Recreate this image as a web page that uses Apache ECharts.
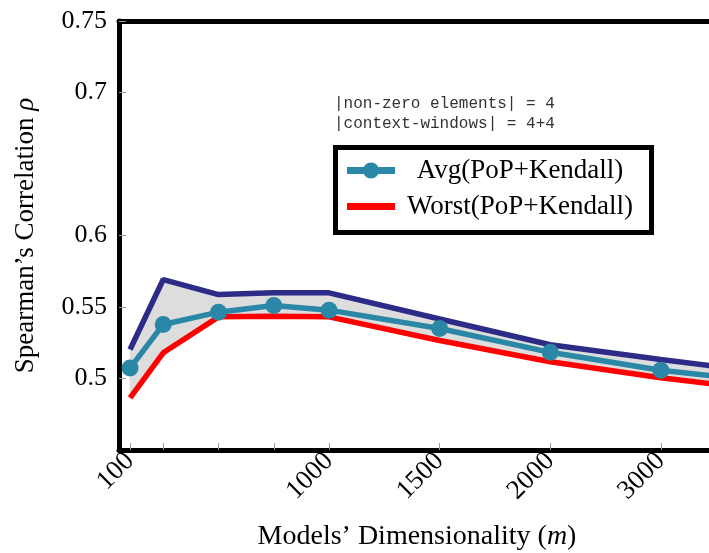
<!DOCTYPE html>
<html>
<head>
<meta charset="utf-8">
<script src="https://cdn.jsdelivr.net/npm/echarts@6/dist/echarts.min.js"></script>
<style>
html,body{margin:0;padding:0;background:#fff;}
#c{width:709px;height:553px;}
</style>
</head>
<body>
<div id="c"></div>
<script>
// x positions of the measured dimensionalities on the plot axis
var xPos = [100, 250, 500, 750, 1000, 1500, 2000, 2500, 3000];
// tick positions and their labels
var xTickPos = [100, 250, 500, 750, 1000, 1500, 2000, 2500];
var xLabelPos = [100, 1000, 1500, 2000, 2500];
var xLabelText = ['100', '1000', '1500', '2000', '3000'];
var yTickVals = [0.5, 0.55, 0.6, 0.7, 0.75];
// series values
var avgVals   = [0.5073, 0.5378, 0.5464, 0.5510, 0.5478, 0.5350, 0.5183, 0.5058, 0.4973];
var bestVals  = [0.5203, 0.5692, 0.5587, 0.5599, 0.5599, 0.5416, 0.5236, 0.5133, 0.5038];
var worstVals = [0.4865, 0.5180, 0.5431, 0.5436, 0.5431, 0.5266, 0.5117, 0.5005, 0.4914];

var SERIF = "'Liberation Serif','DejaVu Serif',serif";
var TEAL = '#2a87a5', NAVY = '#2d2b88', RED = '#ff0000';
function pairs(vals){ return xPos.map(function(x,i){ return [x, vals[i]]; }); }
var segIdx = xPos.slice(0, -1).map(function(_, i){ return i; });

var chart = echarts.init(document.getElementById('c'), null, {renderer:'canvas'});
chart.setOption({
  animation: false,
  backgroundColor: '#fff',
  grid: {left: 119, top: 21, right: 0, bottom: 103},
  legend: {
    data: [
      {name: 'Avg(PoP+Kendall)', icon: 'path://M0,4.5 L48,4.5 L48,11.5 L0,11.5 Z M16,8 A8,8 0 1,1 32,8 A8,8 0 1,1 16,8 Z'},
      {name: 'Worst(PoP+Kendall)', icon: 'path://M0,0 L48,0 L48,7 L0,7 Z'}
    ],
    symbolKeepAspect: true,
    orient: 'vertical',
    left: 335.5, top: 147.5,
    padding: [9.5, 18.5, 12.5, 11.5],
    itemGap: 9,
    itemWidth: 48, itemHeight: 16,
    borderColor: '#000', borderWidth: 5, backgroundColor: '#fff',
    formatter: function(n){ return '{a|' + n + '}'; },
    textStyle: {
      fontFamily: SERIF, fontSize: 27, color: '#000',
      rich: {a: {fontFamily: SERIF, fontSize: 27, width: 240, align: 'center', color: '#000'}}
    }
  },
  xAxis: [{
    type: 'value', min: 50, max: 2718,
    axisLine: {show: true, lineStyle: {color: '#000', width: 5}},
    axisTick: {show: true, inside: true, length: 7, customValues: xTickPos, lineStyle: {color: '#999', width: 1}},
    axisLabel: {
      customValues: xLabelPos, rotate: 45, margin: 7,
      fontFamily: SERIF, fontSize: 27, color: '#000',
      formatter: function(v){ var i = xLabelPos.indexOf(v); return i >= 0 ? xLabelText[i] : ''; }
    },
    splitLine: {show: false}
  }, {
    type: 'value', min: 50, max: 2718, position: 'top',
    axisLine: {show: true, onZero: false, lineStyle: {color: '#000', width: 5}},
    axisTick: {show: false}, axisLabel: {show: false}, splitLine: {show: false}
  }],
  yAxis: {
    type: 'value', min: 0.45, max: 0.75,
    axisLine: {show: true, lineStyle: {color: '#000', width: 5}},
    axisTick: {show: true, inside: true, length: 7, customValues: yTickVals, lineStyle: {color: '#999', width: 1}},
    axisLabel: {
      customValues: yTickVals, margin: 12,
      fontFamily: SERIF, fontSize: 26, color: '#000',
      formatter: function(v){ return String(+v.toFixed(2)); }
    },
    splitLine: {show: false},
    name: '{a|Spearman\u2019s Correlation }{b|\u03c1}',
    nameLocation: 'middle', nameGap: 80, nameRotate: 90,
    nameTextStyle: {
      fontFamily: SERIF, fontSize: 27, color: '#000',
      rich: {a: {fontFamily: SERIF, fontSize: 27, color: '#000'}, b: {fontFamily: SERIF, fontSize: 27, fontStyle: 'italic', color: '#000'}}
    }
  },
  graphic: [
    {type: 'text', left: 334, top: 94, z: 100,
     style: {text: '|non-zero elements| = 4\n|context-windows| = 4+4', font: "16px 'Liberation Mono', monospace", fill: '#333', lineHeight: 20}},
    {type: 'text', x: 417, y: 537, z: 100,
     style: {text: '{a|Models\u2019 Dimensionality (}{b|m}{a|)}', align: 'center', verticalAlign: 'middle',
       rich: {a: {fontFamily: SERIF, fontSize: 28, fill: '#000'}, b: {fontFamily: SERIF, fontSize: 28, fontStyle: 'italic', fill: '#000'}}}}
  ],
  series: [
    {name: 'band', type: 'custom', data: segIdx, clip: true, silent: true, z: 1,
     renderItem: function(params, api){
       var i = api.value(0);
       var pts = [
         api.coord([xPos[i], bestVals[i]]), api.coord([xPos[i+1], bestVals[i+1]]),
         api.coord([xPos[i+1], worstVals[i+1]]), api.coord([xPos[i], worstVals[i]])
       ];
       return {type: 'polygon', shape: {points: pts}, style: {fill: '#dddddd', stroke: '#dddddd', lineWidth: 0.5}};
     }},
    {name: 'Best(PoP+Kendall)', type: 'line', data: pairs(bestVals), symbol: 'none', lineStyle: {color: NAVY, width: 5.5}, itemStyle: {color: NAVY}, z: 3},
    {name: 'Worst(PoP+Kendall)', type: 'line', data: pairs(worstVals), symbol: 'none', lineStyle: {color: RED, width: 5.5}, itemStyle: {color: RED}, z: 4},
    {name: 'Avg(PoP+Kendall)', type: 'line', data: pairs(avgVals), symbol: 'circle', symbolSize: 17, showSymbol: true, lineStyle: {color: TEAL, width: 5.5}, itemStyle: {color: TEAL}, z: 5}
  ]
});
</script>
</body>
</html>
